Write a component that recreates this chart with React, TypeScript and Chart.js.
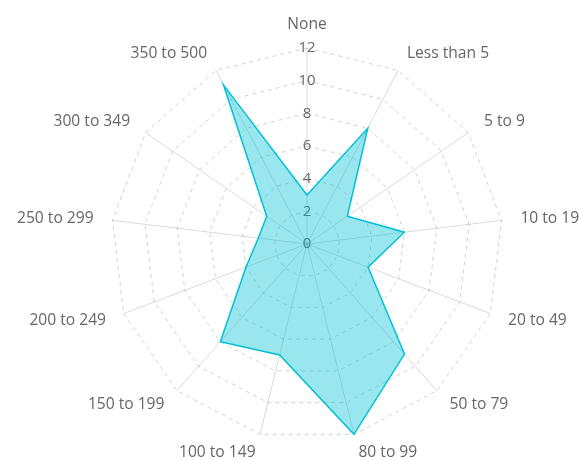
import React, { useEffect, useRef } from "react";
import { Chart, registerables } from "chart.js";

Chart.register(...registerables);

const categories = [
  "None",
  "Less than 5",
  "5 to 9",
  "10 to 19",
  "20 to 49",
  "50 to 79",
  "80 to 99",
  "100 to 149",
  "150 to 199",
  "200 to 249",
  "250 to 299",
  "300 to 349",
  "350 to 500",
];

const seriesValues = [3, 8, 3, 6, 4, 9, 12, 7, 8, 4, 3, 3, 11];

const scaleMin = 0;
const scaleMax = 12;
const scaleStep = 2;

const FONT = "'Open Sans', 'Noto Sans', sans-serif";
const LABEL_GAP = 19;

// Draws the "0" tick (Chart.js skips the first tick of a radial scale)
const zeroLabelPlugin = {
  id: "zeroLabel",
  beforeDatasetsDraw(chart: any) {
    const r = chart.scales.r;
    const ctx = chart.ctx;
    ctx.save();
    ctx.font = `15px ${FONT}`;
    ctx.fillStyle = "#666";
    ctx.textAlign = "center";
    ctx.textBaseline = "middle";
    ctx.fillText(String(scaleMin), r.xCenter, r.yCenter);
    ctx.restore();
  },
};

// Point labels placed at the spoke ends, vertically centred on the spoke
const pointLabelPlugin = {
  id: "pointLabelsCentered",
  afterDraw(chart: any) {
    const r = chart.scales.r;
    const ctx = chart.ctx;
    const labels: string[] = chart.data.labels;
    ctx.save();
    ctx.font = `15.6px ${FONT}`;
    ctx.fillStyle = "#666";
    labels.forEach((label, i) => {
      const pos = r.getPointPosition(i, r.drawingArea + LABEL_GAP);
      const deg = Math.round((r.getIndexAngle(i) * 180) / Math.PI) % 360;
      if (deg === 0 || deg === 180) ctx.textAlign = "center";
      else if (deg < 180) ctx.textAlign = "left";
      else ctx.textAlign = "right";
      ctx.textBaseline = deg === 0 ? "alphabetic" : "middle";
      ctx.fillText(label, pos.x, pos.y);
    });
    ctx.restore();
  },
};

export default function App() {
  const ref = useRef<HTMLCanvasElement | null>(null);

  useEffect(() => {
    if (!ref.current) return;
    const chart = new Chart(ref.current, {
      type: "radar",
      data: {
        labels: categories,
        datasets: [
          {
            label: "Count",
            data: seriesValues,
            borderColor: "rgb(0,192,214)",
            backgroundColor: "rgba(0,192,214,0.4)",
            borderWidth: 1.5,
            pointRadius: 0,
            fill: true,
          },
        ],
      },
      options: {
        animation: false,
        responsive: true,
        maintainAspectRatio: false,
        layout: { padding: { left: 57, right: 22, top: 38, bottom: 11 } },
        plugins: {
          legend: { display: false },
          tooltip: { enabled: false },
        },
        scales: {
          r: {
            min: scaleMin,
            max: scaleMax,
            ticks: {
              stepSize: scaleStep,
              showLabelBackdrop: false,
              color: "#666",
              font: { family: FONT, size: 15 },
            },
            grid: {
              color: "rgba(0,0,0,0.18)",
            },
            border: { dash: [4, 4] } as any,
            angleLines: {
              color: "rgba(0,0,0,0.15)",
            },
            pointLabels: {
              display: false,
            },
          },
        },
      },
      plugins: [zeroLabelPlugin, pointLabelPlugin],
    });
    return () => chart.destroy();
  }, []);

  return (
    <div style={{ position: "absolute", left: 0, top: 0, width: 579, height: 461 }}>
      <canvas ref={ref} />
    </div>
  );
}
